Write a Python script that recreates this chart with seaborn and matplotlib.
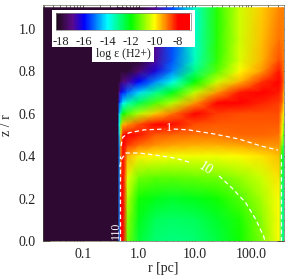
import numpy as np
import matplotlib
matplotlib.use("Agg")
import matplotlib.pyplot as plt
from matplotlib.patches import Rectangle
from matplotlib.ticker import MultipleLocator, FixedLocator, FixedFormatter, LogLocator, NullFormatter
import seaborn as sns

sns.set_style("ticks")
plt.rcParams['font.family'] = ['Liberation Serif', 'DejaVu Serif']

# grid
r_pc = [0.0195, 0.427, 0.447, 0.479, 0.525, 0.631, 1.0, 2.0, 4.0, 10.0, 25.1, 63.1, 158.0, 316.0, 363.0, 389.0]
z_r = [1.1, 0.95, 0.85, 0.8, 0.75, 0.7, 0.65, 0.6, 0.55, 0.5, 0.45, 0.4, 0.3, 0.2, 0.1, 0.0]
c00 = [-18] * 16
c01 = [-18] * 16
c02 = [-18, -18, -18, -18, -18, -17, -15.5, -14.5, -14, -14.5, -15, -15, -15, -15, -15, -15]
c03 = [-18, -18, -18, -18, -17.5, -16.2, -14.8, -13, -11, -9.5, -9, -9, -8.5, -8, -8, -8]
c04 = [-18, -18, -18, -18, -17.2, -15.8, -14, -12, -9.5, -8, -8, -8, -7.8, -8, -8, -8]
c05 = [-18, -18, -18, -18, -16.8, -15.2, -13.4, -11.4, -9.2, -7.9, -8.5, -9.4, -10.2, -10.6, -10.9, -11.1]
c06 = [-18, -18, -18, -17.3, -16, -14.3, -12.6, -10.6, -8.6, -8.2, -8.9, -9.9, -11.1, -11.9, -12.2, -12.4]
c07 = [-16.9, -16.9, -16.8, -16.3, -14.9, -13.1, -11.4, -9.6, -8.0, -8.7, -9.2, -10.0, -11.3, -12.2, -12.7, -12.9]
c08 = [-15.4, -15.4, -15.3, -15.0, -13.8, -12.2, -10.6, -8.9, -8.1, -8.8, -9.3, -10.1, -11.3, -12.3, -12.8, -13.0]
c09 = [-13.6, -13.6, -13.5, -13.0, -12, -10.5, -9.2, -8.0, -8.6, -8.9, -9.4, -10.1, -11.2, -12.2, -12.7, -12.9]
c10 = [-11.7, -11.7, -11.6, -11.3, -10.4, -9.2, -8.0, -8.5, -8.7, -8.9, -9.4, -10.1, -11.1, -11.9, -12.3, -12.5]
c11 = [-10.4, -10.4, -10.3, -10, -9.4, -8.2, -8, -8.6, -8.7, -8.8, -9.3, -10, -10.8, -11.4, -11.8, -11.9]
c12 = [-9.6, -9.5, -9.4, -9.2, -8.4, -7.9, -8.3, -8.6, -8.7, -8.8, -9.2, -9.8, -10.4, -10.7, -10.9, -11.0]
c13 = [-9.1, -8.9, -8.6, -8.2, -7.9, -8.2, -8.5, -8.6, -8.7, -8.9, -9.2, -9.5, -9.8, -10, -10, -10]
c14 = [-9, -9, -8.8, -8.6, -8.4, -8.6, -8.8, -9.5, -9.8, -10, -11, -12, -12.5, -13, -13, -13]
c15 = [-9, -9, -9, -9, -9, -9.5, -9.8, -10, -11, -12, -13, -13, -13, -13, -13, -13]
columns = [c00, c01, c02, c03, c04, c05, c06, c07, c08, c09, c10, c11, c12, c13, c14, c15]

# contours
c1a_r = [0.48, 0.518, 0.66, 1.23, 2.9]
c1a_z = [0.448, 0.49, 0.51, 0.524, 0.528]
c1b_r = [4.2, 7.8, 21.8, 61, 151, 304]
c1b_z = [0.528, 0.524, 0.505, 0.481, 0.448, 0.429]
c10a_r = [0.457, 0.5, 0.59, 1.0, 2.0, 4.6, 8.9]
c10a_z = [0.35, 0.39, 0.415, 0.415, 0.405, 0.39, 0.368]
c10b_r = [27, 46, 81, 123, 170, 178]
c10b_z = [0.307, 0.25, 0.18, 0.1, 0.02, 0.0]
wall_l_r = [0.457, 0.457]
wall_l_z = [0.0, 0.40]
wall_r_r = [345, 345]
wall_r_z = [0.0, 0.42]

xticks = [0.1, 1.0, 10.0, 100.0]
xlabels = ["0.1", "1.0", "10.0", "100.0"]
cbar_ticks = [-18, -16, -14, -12, -10, -8]
palette_nodes = ["#000000", "#2f0a33", "#5a0a8c", "#0000ff", "#0080ff", "#00ffff", "#00ff80",
                 "#00ff00", "#80ff00", "#ffff00", "#ff8000", "#ff0000", "#ff0000"]

W, H = 294, 278
fig = plt.figure(figsize=(W / 100, H / 100), dpi=100)
ax = fig.add_axes([43 / W, (H - 241) / H, 241 / W, 236 / H])
cmap = sns.blend_palette(palette_nodes, n_colors=256, as_cmap=True)

Z = np.array(columns).T
mesh = ax.pcolormesh(r_pc, z_r, Z, shading="gouraud", cmap=cmap, vmin=-19, vmax=-7, rasterized=True)
ax.set_xscale("log")
ax.set_xlim(0.0195, 389)
ax.set_ylim(0, 1.113)

for xs, ys in [(c1a_r, c1a_z), (c1b_r, c1b_z), (c10a_r, c10a_z), (c10b_r, c10b_z),
               (wall_l_r, wall_l_z), (wall_r_r, wall_r_z)]:
    sns.lineplot(x=xs, y=ys, sort=False, estimator=None, ax=ax, color="white", lw=0.9,
                 linestyle=(0, (3.5, 2.5)))

ax.text(3.4, 0.532, "1", color="white", fontsize=9, rotation=0, ha="center", va="center")
ax.text(15.5, 0.34, "10", color="white", fontsize=10, rotation=-32, ha="center", va="center")
ax.text(0.385, 0.05, "110", color="white", fontsize=8.5, rotation=90, ha="center", va="center")

ax.xaxis.set_major_locator(FixedLocator(xticks))
ax.xaxis.set_major_formatter(FixedFormatter(xlabels))
ax.xaxis.set_minor_locator(LogLocator(base=10, subs=np.arange(2, 10)))
ax.xaxis.set_minor_formatter(NullFormatter())
ax.yaxis.set_major_locator(MultipleLocator(0.2))
ax.yaxis.set_minor_locator(MultipleLocator(0.05))
ax.tick_params(which="major", direction="in", length=5, width=0.6, color="#404030", top=True, right=True,
               labelsize=10, pad=5, labelcolor="#222222")
ax.tick_params(which="minor", direction="in", length=2.5, width=0.5, color="#404030", top=True, right=True)
for s in ax.spines.values():
    s.set_linewidth(0.6)
    s.set_color("#50503a")
    s.set_alpha(0.7)
ax.set_xlabel("r [pc]", fontsize=10, labelpad=1, color="#222222")
ax.set_ylabel("z / r", fontsize=10, color="#222222")
ax.yaxis.set_label_coords(-30 / 241, 0.49)

# white box behind the colour bar
fig.add_artist(Rectangle((52 / W, (H - 47) / H), 143 / W, 37 / H, transform=fig.transFigure,
                         facecolor="white", edgecolor="none", zorder=3))
fig.add_artist(Rectangle((92 / W, (H - 62) / H), 62 / W, 16 / H, transform=fig.transFigure,
                         facecolor="white", edgecolor="none", zorder=3))

cax = fig.add_axes([56 / W, (H - 30) / H, 135 / W, 17 / H], zorder=5)
cb = fig.colorbar(mesh, cax=cax, orientation="horizontal")
cax.set_xlim(-18.4, -6.9)
cb.set_ticks(cbar_ticks)
cb.set_ticklabels([str(t) for t in cbar_ticks])
cax.tick_params(axis="x", direction="in", length=2, width=0.4, color="#505050", labelsize=9, pad=4,
                labelcolor="#222222")
cb.outline.set_linewidth(0.5)
cb.outline.set_edgecolor("#808080")
fig.text(123 / W, (H - 54) / H, "log ε (H2+)", fontsize=8.5, ha="center", va="center", color="#222222", zorder=6)

fig.savefig("out.png", dpi=100)
